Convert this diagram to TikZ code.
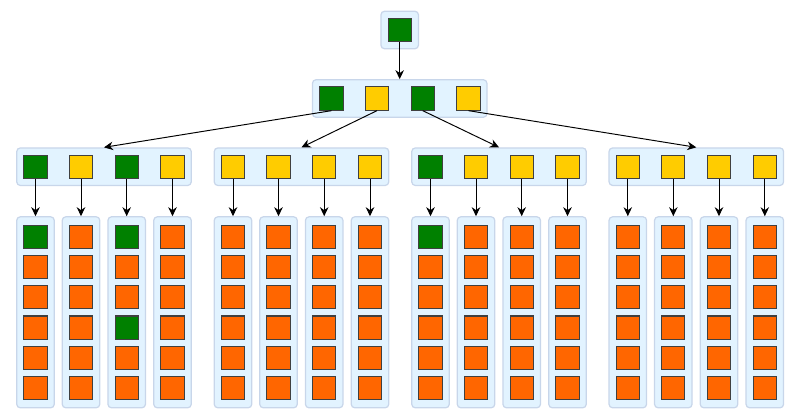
\documentclass[tikz,border=0pt]{standalone}
\usepackage[]{xcolor}
\usetikzlibrary{arrows.meta}

\definecolor{panelfill}{HTML}{E2F3FF}
\definecolor{panelline}{HTML}{C8D6EA}
\definecolor{cellgreen}{HTML}{008000}
\definecolor{cellyellow}{HTML}{FFCC00}
\definecolor{cellorange}{HTML}{FF6600}

\tikzset{
  panel/.style={draw=panelline, fill=panelfill, line width=0.7pt, rounded corners=2pt, inner sep=0pt},
  cell/.style={draw=black!75, line width=0.6pt, inner sep=0pt, minimum size=0.465cm},
  % greens among the cells, the rest keep the colour of their row
  mid 1-1/.style={fill=cellgreen},
  mid 1-3/.style={fill=cellgreen},
  mid 3-1/.style={fill=cellgreen},
  leaf 1-1-1/.style={fill=cellgreen},
  leaf 1-3-1/.style={fill=cellgreen},
  leaf 1-3-4/.style={fill=cellgreen},
  leaf 3-1-1/.style={fill=cellgreen},
}

\begin{document}
\begin{tikzpicture}[x=0.02cm, y=-0.02cm, >={Stealth[length=1.8mm, width=1.7mm]}]
        \useasboundingbox (0, 0) rectangle (800, 419);

        % top
        \node[panel, minimum width=0.75cm, minimum height=0.75cm] (rootpanel) at (399.7, 30) {};
        \node[cell, fill=cellgreen] (root) at (399.7, 30) {};

        % second row
        \node[panel, minimum width=3.49cm, minimum height=0.75cm] (toppanel) at (399.7, 98.5) {};
        \foreach \c/\x/\col in {1/331.5/cellgreen, 2/377/cellyellow, 3/422.7/cellgreen, 4/468.5/cellyellow}
          \node[cell, fill=\col] (top\c) at (\x, 98.5) {};
        \draw[->, line width=0.55pt] (root.south) -- (toppanel.north);

        % third row and the columns under it
        \foreach \p/\X in {1/0, 2/197.5, 3/395, 4/592.3} {
          \node[panel, minimum width=3.49cm, minimum height=0.75cm] (midpanel\p) at (104+\X, 166.7) {};
          \draw[->, line width=0.55pt] (top\p.south) -- (midpanel\p.north);
          \foreach \c/\x in {1/35.5, 2/81, 3/126.7, 4/172.5} {
            \node[cell, fill=cellyellow, mid \p-\c/.try] (mid\p\c) at (\x+\X, 166.7) {};
            \node[panel, minimum width=0.75cm, minimum height=3.82cm] (leafpanel\p\c) at (\x+\X, 312.3) {};
            \draw[->, line width=0.55pt] (mid\p\c.south) -- (leafpanel\p\c.north);
            \foreach \r/\y in {1/236.7, 2/267, 3/297.3, 4/327.6, 5/357.9, 6/388.2}
              \node[cell, fill=cellorange, leaf \p-\c-\r/.try] (leaf\p\c\r) at (\x+\X, \y) {};
          }
        }
      \end{tikzpicture}
\end{document}
